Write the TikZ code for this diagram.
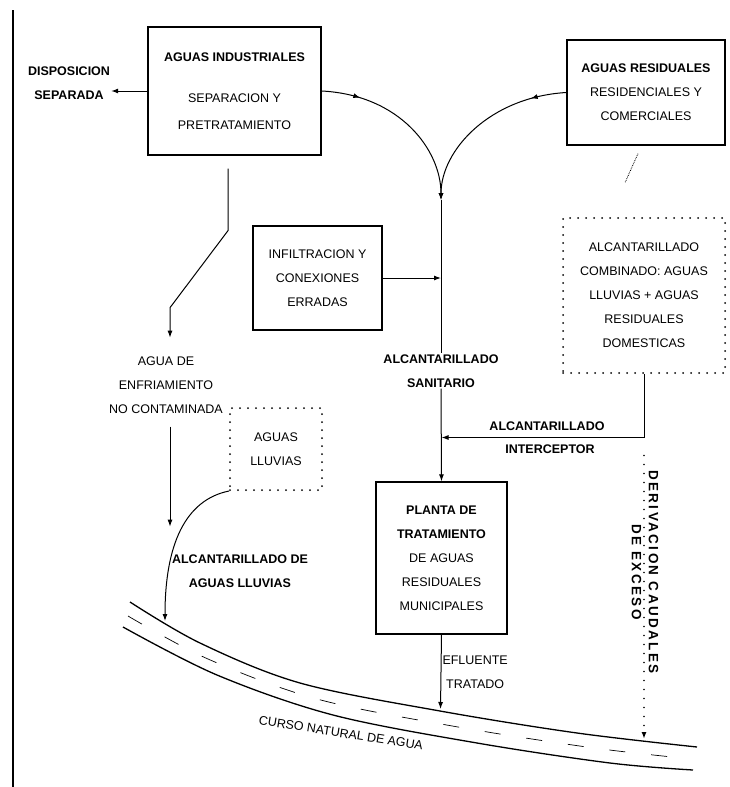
\documentclass[tikz,border=0pt]{standalone}
\usepackage{fontspec}
\setmainfont{Liberation Sans}
\newfontfamily\widefont{Liberation Sans}[LetterSpace=18]
\usetikzlibrary{arrows.meta, decorations.markings}
\newcommand{\diagfont}{\fontsize{12.5}{24}\selectfont}
\newcommand{\boxline}{1.3pt}
\tikzset{
    common/.style={align=center, font=\diagfont},
    box/.style={common, draw, line width=\boxline, inner sep=0pt},
    dotbox/.style={common, draw, line width=2pt, line cap=round, dash pattern=on 0pt off 8pt, inner sep=0pt},
    lbl/.style={common, inner sep=1pt},
    boldlbl/.style={lbl, font=\diagfont\bfseries},
    flow/.style={->, line width=1pt},
    dotflow/.style={->, line width=1.6pt, line cap=round, dash pattern=on 0pt off 9pt},
    midtip/.style={postaction=decorate, decoration={markings, mark=at position #1 with {\arrow{>}}}},
    bank/.style={line width=1.3pt, smooth, tension=0.55},
    ripple/.style={line width=0.7pt, smooth, tension=0.55, dash pattern=on 16pt off 26pt}
}

\begin{document}
\begin{tikzpicture}[x=1pt, y=-1pt, >={Latex[length=7pt, width=5pt]}]
    \useasboundingbox (0,0) rectangle (729,787);
    \draw[line width=2.2pt] (13,10) -- (13,787);

    \node[box, minimum width=173, minimum height=128] (ind) at (234.5,91)
        {\textbf{AGUAS INDUSTRIALES}\\[17pt]SEPARACION Y\\[3pt]PRETRATAMIENTO};
    \node[box, minimum width=158, minimum height=105] (res) at (646,92.5)
        {\textbf{AGUAS RESIDUALES}\\RESIDENCIALES Y\\COMERCIALES};
    \node[box, minimum width=129, minimum height=104] (inf) at (317.5,278)
        {INFILTRACION Y\\CONEXIONES\\ERRADAS};
    \node[dotbox, minimum width=162, minimum height=155] (comb) at (644,295.5)
        {ALCANTARILLADO\\COMBINADO: AGUAS\\LLUVIAS + AGUAS\\RESIDUALES\\DOMESTICAS};
    \node[dotbox, minimum width=92, minimum height=82] (lluv) at (276,449)
        {AGUAS\\LLUVIAS};
    \node[box, minimum width=131, minimum height=152] (planta) at (441.5,558)
        {\textbf{PLANTA DE}\\\textbf{TRATAMIENTO}\\DE AGUAS\\RESIDUALES\\MUNICIPALES};

    \node[boldlbl] (disp) at (69,83) {DISPOSICION\\SEPARADA};
    \node[lbl] (agua) at (166,385) {AGUA DE\\ENFRIAMIENTO\\NO CONTAMINADA};
    \node[boldlbl] (sanit) at (441,371) {ALCANTARILLADO\\SANITARIO};
    \node[boldlbl] (int-top) at (547,426) {ALCANTARILLADO};
    \node[boldlbl] (int-bot) at (550,449) {INTERCEPTOR};
    \node[boldlbl] (lltxt) at (240,571) {ALCANTARILLADO DE\\AGUAS LLUVIAS};
    \node[lbl, font=\fontsize{13.5}{17}\selectfont\widefont\bfseries, rotate=-90] (deriv) at (645,572)
        {DERIVACION CAUDALES\\DE EXCESO};
    \node[lbl, rotate=-9] (curso) at (341,733) {CURSO NATURAL DE AGUA};

    \coordinate (junc) at (441,200);
    \coordinate (riv-ll) at (165,621);
    \coordinate (riv-efl) at (440.5,709);
    \coordinate (riv-der) at (644,739);

    \draw[bank] plot coordinates {(130,602) (200,643) (300,683) (440,711) (577,733) (697,747)};
    \draw[bank] plot coordinates {(123,627) (217,675) (333,715) (477,743) (610,763) (693,770)};
    \draw[ripple] plot coordinates {(128,616) (208,659) (317,699) (458,727) (594,748) (692,759)};

    \draw[flow] (ind.west) -- (ind.west -| disp.east);
    \draw[flow, midtip=0.22] (ind.east) .. controls (400,95) and (441,150) .. (junc);
    \draw[flow, midtip=0.2] (res.west) .. controls (490,97) and (441,150) .. (junc);
    \draw[line width=1pt] (junc) -- (sanit.north);
    \draw[flow] (inf.east) -- (inf.east -| junc);
    \draw[flow] (sanit.south) -- (planta.north);
    \draw[line width=0.8pt, densely dotted] ([xshift=-8pt, yshift=-8pt]res.south) -- ++(-13,29);

    \draw[flow] (comb.south) -- ++(0,63.5) coordinate (int-corner) -- (int-corner -| planta.north);
    \draw[dotflow] ([yshift=-18pt]int-corner) -- (riv-der);

    \draw[flow] (planta.south) -- (riv-efl)
        node[lbl, pos=0.5, right] {EFLUENTE\\TRATADO};

    \draw[flow] ([xshift=-6.5pt, yshift=-13pt]ind.south) -- ++(0,62) -- ++(-58,77) -- ++(0,30);
    \draw[flow] ([xshift=4pt, yshift=-12pt]agua.south) -- ++(0,100);
    \draw[flow] (lluv.south west) .. controls (185,500) and (165,545) .. (riv-ll);
\end{tikzpicture}
\end{document}
